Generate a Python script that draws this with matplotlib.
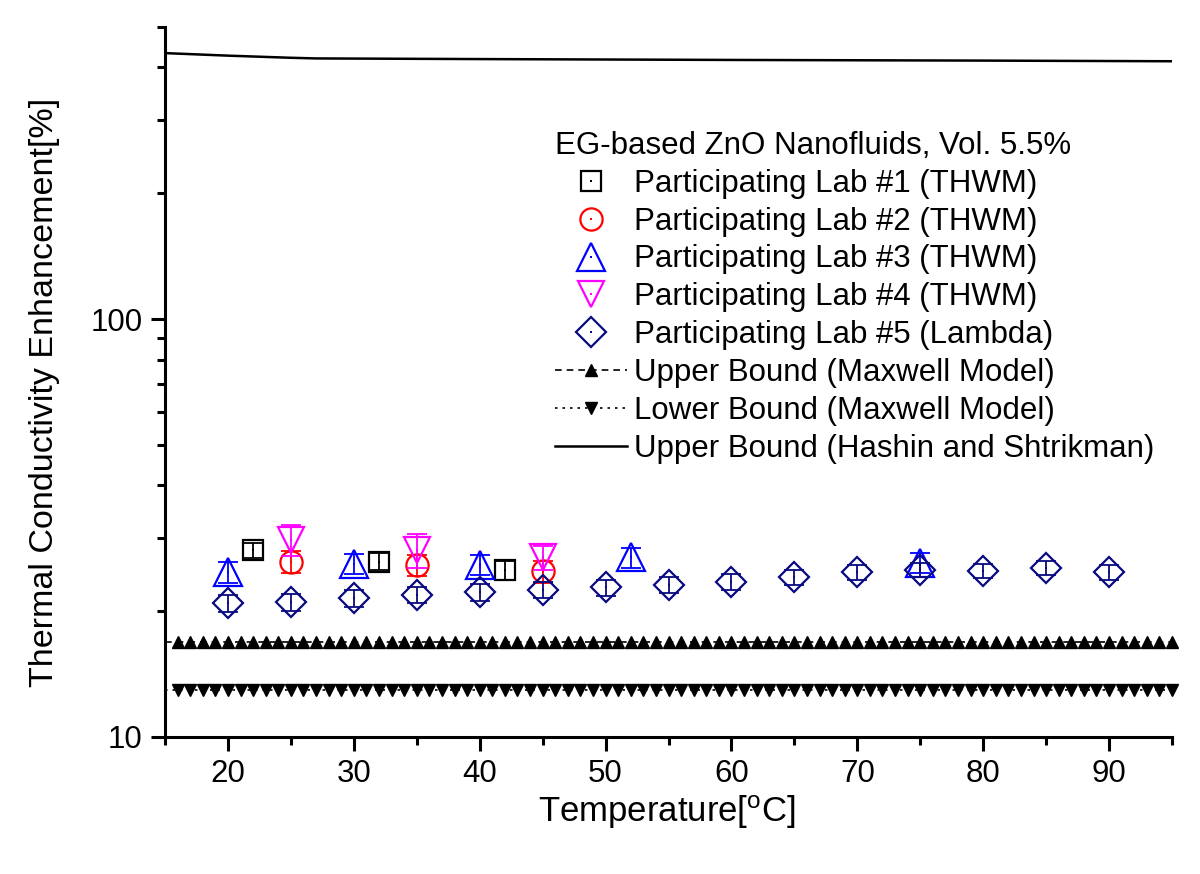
import numpy as np
import matplotlib
matplotlib.use("Agg")
import matplotlib.pyplot as plt
from matplotlib.ticker import NullFormatter, FixedLocator, FixedFormatter
from matplotlib.legend_handler import HandlerTuple

plt.rcParams['font.family'] = ['Liberation Sans', 'DejaVu Sans']

# ---- data ----
lab1_T = [22, 32, 42]
lab1_k = [28.0, 26.3, 25.1]
lab1_err = [1.2, 1.2, 1.3]

lab2_T = [25, 35, 45]
lab2_k = [26.3, 25.8, 24.9]
lab2_err = [1.6, 1.5, 1.5]

lab3_T = [20, 30, 40, 52, 75]
lab3_k = [24.8, 26.0, 25.8, 26.9, 26.1]
lab3_err = [1.4, 1.4, 1.4, 1.5, 1.4]

lab4_T = [25, 35, 45]
lab4_k = [29.6, 28.0, 26.9]
lab4_err = [2.5, 2.6, 1.8]

lab5_T = [20, 25, 30, 35, 40, 45, 50, 55, 60, 65, 70, 75, 80, 85, 90]
lab5_k = [20.9, 21.0, 21.5, 21.9, 22.2, 22.5, 22.8, 23.1, 23.5, 24.1, 24.8, 25.1, 25.0, 25.4, 24.8]
lab5_err = [1.0] * len(lab5_T)

model_T = list(range(15, 96))
maxwell_upper = [16.9] * len(model_T)
maxwell_lower = [12.95] * len(model_T)

hs_T = [15, 20, 25, 27, 40, 60, 80, 95]
hs_k = [433, 427, 422, 420.5, 419, 417, 415.5, 414]

legend_title = "EG-based ZnO Nanofluids, Vol. 5.5%"
labels = ["Participating Lab #1 (THWM)", "Participating Lab #2 (THWM)",
          "Participating Lab #3 (THWM)", "Participating Lab #4 (THWM)",
          "Participating Lab #5 (Lambda)", "Upper Bound (Maxwell Model)",
          "Lower Bound (Maxwell Model)", "Upper Bound (Hashin and Shtrikman)"]

# ---- figure ----
fig = plt.figure(figsize=(12, 8.74), dpi=100)
ax = fig.add_axes([165/1200, 1-737/874, (1172-165)/1200, (737-27)/874])
ax.set_yscale('log')
ax.set_xlim(15, 95)
ax.set_ylim(10, 500)

# model lines
l_up, = ax.plot(model_T, maxwell_upper, color='black', ls=(0, (4, 3)), lw=1.2,
                marker='^', ms=8, mfc='black', mec='black', markevery=slice(1, None), clip_on=False)
l_lo, = ax.plot(model_T, maxwell_lower, color='black', ls=(0, (1.5, 3)), lw=1.2,
                marker='v', ms=8, mfc='black', mec='black', markevery=slice(1, None), clip_on=False)
l_hs, = ax.plot(hs_T, hs_k, color='black', lw=1.8)

series = [
    (lab1_T, lab1_k, lab1_err, 's', 14.0, 'black'),
    (lab2_T, lab2_k, lab2_err, 'o', 16.0, 'red'),
    (lab3_T, lab3_k, lab3_err, '^', 20.0, '#0000ff'),
    (lab4_T, lab4_k, lab4_err, 'v', 19.0, '#ff00ff'),
    (lab5_T, lab5_k, lab5_err, 'D', 15.0, '#0a0a80'),
]
handles = []
for T, k, e, m, ms, c in series:
    ax.errorbar(T, k, yerr=e, fmt='none', ecolor=c, elinewidth=1.3, capsize=7, capthick=1.3)
    h1, = ax.plot(T, k, ls='none', marker=m, ms=ms, mfc='none', mec=c, mew=1.6)
    h2, = ax.plot(T, k, ls='none', marker='s', ms=1.8, mfc=c, mec=c, mew=0)
    handles.append((h1, h2))
handles += [l_up, l_lo, l_hs]

# axes styling
for s in ['top', 'right']:
    ax.spines[s].set_visible(False)
for s in ['left', 'bottom']:
    ax.spines[s].set_linewidth(2.2)

ax.xaxis.set_major_locator(FixedLocator([20, 30, 40, 50, 60, 70, 80, 90]))
ax.xaxis.set_minor_locator(FixedLocator([15, 25, 35, 45, 55, 65, 75, 85, 95]))
ax.yaxis.set_major_locator(FixedLocator([10, 100]))
ax.yaxis.set_major_formatter(FixedFormatter(['10', '100']))
ax.yaxis.set_minor_locator(FixedLocator([20, 30, 40, 50, 60, 70, 80, 90, 200, 300, 400, 500]))
ax.yaxis.set_minor_formatter(NullFormatter())
ax.tick_params(which='major', length=10, width=2.2, direction='out', labelsize=22.5, pad=6)
ax.tick_params(which='minor', length=6, width=2.2, direction='out')

fig.text(667/1200, 1-812/874, r'Temperature[$\mathregular{^{o}}$C]', ha='center', va='center', fontsize=25)
fig.text(45/1200, 1-392/874, 'Thermal Conductivity Enhancement[%]', ha='center', va='center',
         rotation=90, fontsize=24.5)

leg = ax.legend(handles, labels, title=legend_title, loc='upper left',
                bbox_to_anchor=(555/1200, 1-131/874), bbox_transform=fig.transFigure,
                frameon=False, fontsize=22.5, title_fontsize=22.5, labelspacing=0.25,
                handlelength=2.3, handletextpad=0.22, borderpad=0, borderaxespad=0,
                numpoints=1, handler_map={tuple: HandlerTuple(ndivide=1, pad=0)})
leg._legend_box.align = 'left'

fig.savefig('out.png', dpi=100)
